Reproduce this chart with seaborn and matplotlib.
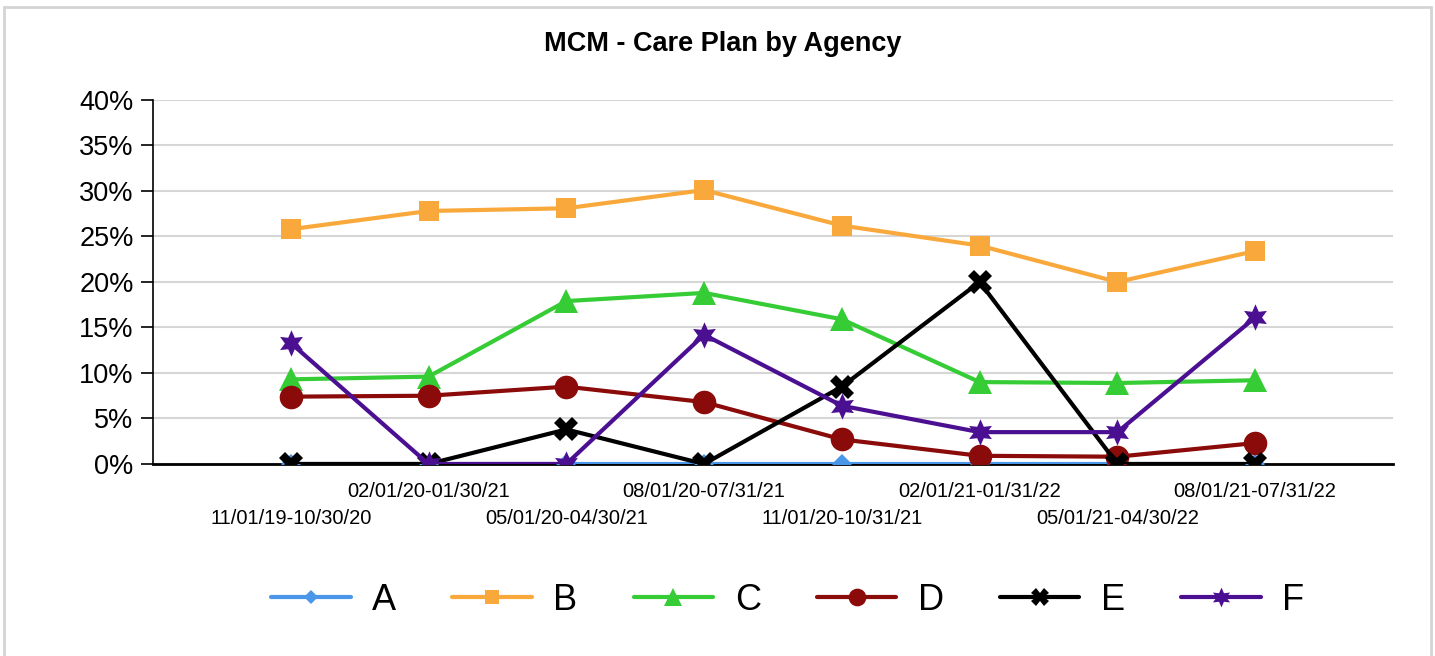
import matplotlib
matplotlib.use('Agg')
import matplotlib.pyplot as plt
from matplotlib.patches import Rectangle
from matplotlib.ticker import FuncFormatter
import seaborn as sns
import pandas as pd

# --- dados ---
periodos = ['11/01/19-10/30/20', '02/01/20-01/30/21', '05/01/20-04/30/21', '08/01/20-07/31/21',
            '11/01/20-10/31/21', '02/01/21-01/31/22', '05/01/21-04/30/22', '08/01/21-07/31/22']
agencias = ['A', 'B', 'C', 'D', 'E', 'F']
valores_a = [0, 0, 0, 0, 0, 0, 0, 0]
valores_b = [25.8, 27.8, 28.1, 30.1, 26.2, 24.0, 20.0, 23.4]
valores_c = [9.3, 9.6, 17.9, 18.8, 15.9, 9.0, 8.9, 9.2]
valores_d = [7.4, 7.5, 8.5, 6.8, 2.7, 0.9, 0.8, 2.3]
valores_e = [0, 0, 3.8, 0, 8.5, 20.0, 0, 0]
valores_f = [13.3, 0, 0, 14.2, 6.4, 3.5, 3.5, 16.1]

cores = ['#4a97ea', '#f9a93c', '#35cc35', '#8b0a0a', '#000000', '#4b0f92']
marcadores = ['D', 's', '^', 'o', 'X', (6, 1, 0)]
tamanhos = [10, 14, 17, 17, 17, 19]

df = pd.DataFrame({
    'periodo': periodos * 6,
    'pos': list(range(8)) * 6,
    'agencia': [a for a in agencias for _ in range(8)],
    'valor': valores_a + valores_b + valores_c + valores_d + valores_e + valores_f,
})

sns.set_theme(style='white')
plt.rcParams['font.family'] = ['Liberation Sans', 'DejaVu Sans']
plt.rcParams['text.color'] = 'black'
plt.rcParams['xtick.color'] = 'black'
plt.rcParams['ytick.color'] = 'black'

fig = plt.figure(figsize=(14.35, 6.56), dpi=100)
ax = fig.add_axes([0.1066, 0.2927, 0.8641, 0.5549])

# moldura clara em volta da imagem
fig.patches.append(Rectangle((0.003, -0.01), 0.994, 0.999, transform=fig.transFigure,
                             fill=False, edgecolor='#d4d4d4', linewidth=2))

for ag, cor, mk, ms in zip(agencias, cores, marcadores, tamanhos):
    sub = df[df['agencia'] == ag]
    sns.lineplot(data=sub, x='pos', y='valor', color=cor, marker=mk, markersize=ms,
                 markeredgewidth=0, linewidth=3, label=ag, ax=ax, zorder=3)

ax.set_xlim(-1, 8)
ax.set_ylim(0, 40)
ax.set_yticks(range(0, 41, 5))
ax.yaxis.set_major_formatter(FuncFormatter(lambda v, p: f'{v:.0f}%'))
ax.grid(axis='y', color='#d6d6d6', linewidth=1.5)
ax.set_axisbelow(True)

# rótulos do eixo x alternados em duas linhas
ax.set_xticks(range(8))
ax.set_xticklabels(periodos, fontsize=14.5)
ax.tick_params(axis='x', length=0)
for i, tick in enumerate(ax.xaxis.get_major_ticks()):
    tick.set_pad(32.5 if i % 2 == 0 else 13)

ax.tick_params(axis='y', labelsize=19.5, length=9, width=1.2, left=True, pad=5)
for s in ['top', 'right']:
    ax.spines[s].set_visible(False)
ax.spines['left'].set_color('black')
ax.spines['left'].set_linewidth(1.2)
ax.spines['bottom'].set_color('black')
ax.spines['bottom'].set_linewidth(2)

ax.set_xlabel('')
ax.set_ylabel('')
fig.text(0.504, 0.933, 'MCM - Care Plan by Agency', fontsize=19.5, fontweight='bold',
         ha='center', va='center')

ax.legend(loc='center', bbox_to_anchor=(0.549, 0.085), bbox_transform=fig.transFigure,
          ncol=6, frameon=False, fontsize=26, handlelength=2.2, columnspacing=1.55,
          handletextpad=0.6, markerscale=0.75)

fig.savefig('out.png', dpi=100)
plt.close('all')
